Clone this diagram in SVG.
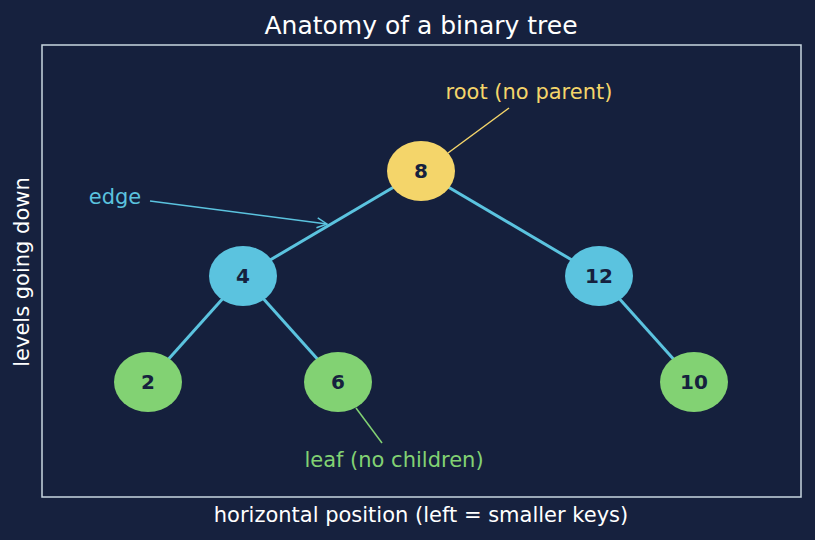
<svg xmlns="http://www.w3.org/2000/svg" width="815" height="540" viewBox="0 0 815 540">
<defs>
<style>
text{font-family:"DejaVu Sans","Liberation Sans",sans-serif;}
.edge{stroke:#5bc3df;stroke-width:3;fill:none;}
.node text{font-size:20px;font-weight:bold;fill:#16213e;text-anchor:middle;dominant-baseline:central;}
.lbl{font-size:21px;text-anchor:middle;}
</style>
<marker id="arr" viewBox="0 0 12 12" refX="11" refY="6" markerWidth="12" markerHeight="12" markerUnits="userSpaceOnUse" orient="auto">
<path d="M1,1 L11,6 L1,11" fill="none" stroke="#5bc3df" stroke-width="1.5"/>
</marker>
</defs>
<rect width="815" height="540" fill="#16213e"/>
<rect x="42" y="45" width="759" height="452" fill="#15203d" stroke="#c8d6e0" stroke-width="1.5"/>
<text x="421" y="34" font-size="25" fill="#ffffff" text-anchor="middle">Anatomy of a binary tree</text>
<text x="421" y="522" font-size="21" fill="#ffffff" text-anchor="middle">horizontal position (left = smaller keys)</text>
<text transform="translate(29,272) rotate(-90)" font-size="21" fill="#ffffff" text-anchor="middle">levels going down</text>
<g id="connectors">
<line class="edge" x1="421" y1="171" x2="243" y2="276"/>
<line class="edge" x1="421" y1="171" x2="599" y2="276"/>
<line class="edge" x1="243" y1="276" x2="148" y2="382"/>
<line class="edge" x1="243" y1="276" x2="338" y2="382"/>
<line class="edge" x1="599" y1="276" x2="694" y2="382"/>
<line x1="150" y1="201" x2="327" y2="224" stroke="#5bc3df" stroke-width="1.5" marker-end="url(#arr)"/>
<line x1="509" y1="108" x2="448" y2="153" stroke="#f4d56a" stroke-width="1.5"/>
<line x1="382" y1="443" x2="356" y2="408" stroke="#82d273" stroke-width="1.5"/>
</g>
<g id="n8" class="node"><ellipse cx="421" cy="171" rx="34" ry="30" fill="#f4d56a"/><text x="421" y="171">8</text></g>
<g id="n4" class="node"><ellipse cx="243" cy="276" rx="34" ry="30" fill="#5bc3df"/><text x="243" y="276">4</text></g>
<g id="n12" class="node"><ellipse cx="599" cy="276" rx="34" ry="30" fill="#5bc3df"/><text x="599" y="276">12</text></g>
<g id="n2" class="node"><ellipse cx="148" cy="382" rx="34" ry="30" fill="#82d273"/><text x="148" y="382">2</text></g>
<g id="n6" class="node"><ellipse cx="338" cy="382" rx="34" ry="30" fill="#82d273"/><text x="338" y="382">6</text></g>
<g id="n10" class="node"><ellipse cx="694" cy="382" rx="34" ry="30" fill="#82d273"/><text x="694" y="382">10</text></g>
<text class="lbl" x="529" y="99" fill="#f4d56a">root (no parent)</text>
<text class="lbl" x="115" y="204" fill="#5bc3df">edge</text>
<text class="lbl" x="394" y="467" fill="#82d273">leaf (no children)</text>
</svg>
